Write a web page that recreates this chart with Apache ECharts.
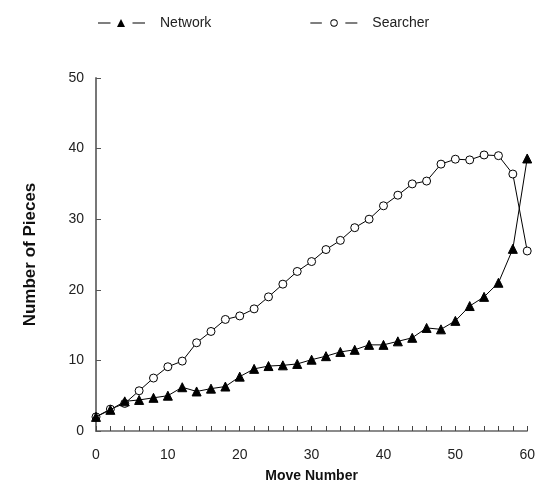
<!DOCTYPE html>
<html><head><meta charset="utf-8">
<script src="https://cdn.jsdelivr.net/npm/echarts@6/dist/echarts.min.js"></script>
<style>html,body{margin:0;padding:0;background:#fff}#c{width:538px;height:488px}</style>
</head><body><div id="c"></div>
<script>
var moves = [0,2,4,6,8,10,12,14,16,18,20,22,24,26,28,30,32,34,36,38,40,42,44,46,48,50,52,54,56,58,60];
var network = [2.0,3.0,4.2,4.4,4.7,5.0,6.2,5.6,6.0,6.3,7.7,8.8,9.2,9.3,9.5,10.1,10.6,11.2,11.5,12.2,12.2,12.7,13.2,14.6,14.4,15.6,17.7,19.0,21.0,25.8,38.6];
var searcher = [2.0,3.1,3.9,5.7,7.5,9.1,9.9,12.5,14.1,15.8,16.3,17.3,19.0,20.8,22.6,24.0,25.7,27.0,28.8,30.0,31.9,33.4,35.0,35.4,37.8,38.5,38.4,39.1,39.0,36.4,25.5];
var seriesNames = ['Network','Searcher'];
var xLabelStep = 10;

function pairs(xs, ys){ return xs.map(function(x,i){ return [x, ys[i]]; }); }
var font = 'Liberation Sans, Arial, sans-serif';
var triIcon = 'path://M0,3.5 L12.5,3.5 L12.5,4.5 L0,4.5 Z M19,8 L23,0 L27,8 Z M34.5,3.5 L47,3.5 L47,4.5 L34.5,4.5 Z';
var ringIcon = 'path://M0,3.5 L11.5,3.5 L11.5,4.5 L0,4.5 Z M20,4 A3.7,3.7 0 1 1 27.4,4 A3.7,3.7 0 1 1 20,4 Z M20.9,4 A2.8,2.8 0 1 0 26.5,4 A2.8,2.8 0 1 0 20.9,4 Z M35,3.5 L47,3.5 L47,4.5 L35,4.5 Z';
var chart = echarts.init(document.getElementById('c'), null, {renderer:'canvas'});
chart.setOption({
  animation: false,
  backgroundColor: '#fff',
  legend: {
    top: 11, left: 93, itemGap: 99, itemWidth: 47, itemHeight: 8,
    textStyle: {fontFamily: font, fontSize: 14, color: '#222', padding:[0,0,0,10]},
    itemStyle: {color: '#000', borderWidth: 0},
    data: [
      {name: seriesNames[0], icon: triIcon, itemStyle: {color:'#000', borderWidth:0}},
      {name: seriesNames[1], icon: ringIcon, itemStyle: {color:'#000', borderWidth:0}}
    ]
  },
  grid: {left: 96, right: 8, top: 78, bottom: 57, containLabel: false},
  xAxis: {
    type: 'value', min: 0, max: 60, interval: 2,
    name: 'Move Number', nameLocation: 'middle', nameGap: 38,
    nameTextStyle: {fontFamily: font, fontSize: 14, fontWeight: 'bold', color: '#111'},
    axisLine: {lineStyle: {color: '#666', width: 1.5}},
    axisTick: {inside: true, length: 5, lineStyle: {color: '#444'}},
    axisLabel: {fontFamily: font, fontSize: 14, color: '#222', margin: 17,
      formatter: function(v){ return v % xLabelStep === 0 ? String(v) : ''; }},
    splitLine: {show: false}
  },
  yAxis: {
    type: 'value', min: 0, max: 50, interval: 10,
    name: 'Number of Pieces', nameLocation: 'middle', nameGap: 57,
    nameTextStyle: {fontFamily: font, fontSize: 17, fontWeight: 'bold', color: '#111'},
    axisLine: {show: true, lineStyle: {color: '#777', width: 2}},
    axisTick: {show: true, inside: true, length: 5, lineStyle: {color: '#555'}},
    axisLabel: {fontFamily: font, fontSize: 14, color: '#222', margin: 12},
    splitLine: {show: false}
  },
  series: [
    {
      name: seriesNames[0], type: 'line', data: pairs(moves, network),
      symbol: 'triangle', symbolSize: 9,
      lineStyle: {color: '#000', width: 1},
      itemStyle: {color: '#000', borderColor: '#000'},
      z: 3
    },
    {
      name: seriesNames[1], type: 'line', data: pairs(moves, searcher),
      symbol: 'circle', symbolSize: 8,
      lineStyle: {color: '#000', width: 1},
      itemStyle: {color: '#fff', borderColor: '#000', borderWidth: 1},
      z: 2
    }
  ]
});
</script></body></html>
